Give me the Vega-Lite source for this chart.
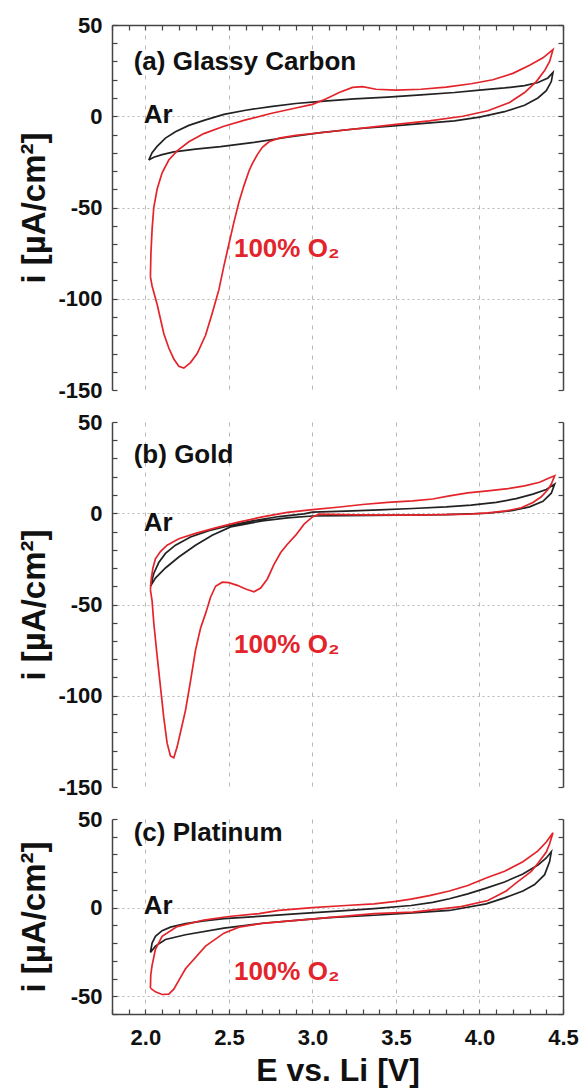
{
  "$schema": "https://vega.github.io/schema/vega-lite/v6.json",
  "background": "white",
  "padding": {"left": 17, "top": 14, "right": 5, "bottom": 5},
  "bounds": "flush",
  "spacing": 32,
  "config": {
    "font": "Liberation Sans",
    "view": {"stroke": null},
    "axis": {
      "labelFont": "Liberation Sans",
      "labelFontWeight": "bold",
      "labelFontSize": 22,
      "labelColor": "#111111",
      "labelPadding": 15,
      "labelFlush": false,
      "labelOverlap": false,
      "titleFont": "Liberation Sans",
      "titleFontWeight": "bold",
      "titleColor": "#111111",
      "domainColor": "#444444",
      "domainWidth": 1.5,
      "tickColor": "#444444",
      "tickWidth": 1.2,
      "tickSize": -5,
      "gridColor": "#b8b8b8",
      "gridWidth": 1
    },
    "text": {"font": "Liberation Sans", "fontWeight": "bold", "fontSize": 26, "align": "left", "baseline": "middle"}
  },
  "datasets": {
    "a": [
      {"s": "Ar", "V": 2.02, "I": -24}, {"s": "Ar", "V": 2.04, "I": -20}, {"s": "Ar", "V": 2.07, "I": -16.5}, {"s": "Ar", "V": 2.12, "I": -12}, {"s": "Ar", "V": 2.18, "I": -8.5}, {"s": "Ar", "V": 2.26, "I": -5}, {"s": "Ar", "V": 2.36, "I": -2}, {"s": "Ar", "V": 2.47, "I": 1}, {"s": "Ar", "V": 2.6, "I": 3.3}, {"s": "Ar", "V": 2.75, "I": 5.3}, {"s": "Ar", "V": 2.9, "I": 7}, {"s": "Ar", "V": 3.05, "I": 8.2}, {"s": "Ar", "V": 3.25, "I": 9.5}, {"s": "Ar", "V": 3.45, "I": 10.5}, {"s": "Ar", "V": 3.65, "I": 11.7}, {"s": "Ar", "V": 3.85, "I": 13}, {"s": "Ar", "V": 4.0, "I": 14.3}, {"s": "Ar", "V": 4.15, "I": 15.5}, {"s": "Ar", "V": 4.27, "I": 16.8}, {"s": "Ar", "V": 4.35, "I": 18.5}, {"s": "Ar", "V": 4.41, "I": 21}, {"s": "Ar", "V": 4.44, "I": 24},
      {"s": "Ar", "V": 4.43, "I": 19}, {"s": "Ar", "V": 4.4, "I": 14}, {"s": "Ar", "V": 4.35, "I": 10}, {"s": "Ar", "V": 4.27, "I": 6}, {"s": "Ar", "V": 4.15, "I": 2.5}, {"s": "Ar", "V": 4.0, "I": -0.5}, {"s": "Ar", "V": 3.85, "I": -2.5}, {"s": "Ar", "V": 3.65, "I": -4}, {"s": "Ar", "V": 3.45, "I": -5.5}, {"s": "Ar", "V": 3.25, "I": -7}, {"s": "Ar", "V": 3.05, "I": -9}, {"s": "Ar", "V": 2.85, "I": -11.5}, {"s": "Ar", "V": 2.65, "I": -14.3}, {"s": "Ar", "V": 2.45, "I": -16.6}, {"s": "Ar", "V": 2.3, "I": -18}, {"s": "Ar", "V": 2.17, "I": -19.5}, {"s": "Ar", "V": 2.1, "I": -21}, {"s": "Ar", "V": 2.05, "I": -22.5}, {"s": "Ar", "V": 2.02, "I": -24},
      {"s": "O2", "V": 2.03, "I": -88}, {"s": "O2", "V": 2.033, "I": -75}, {"s": "O2", "V": 2.04, "I": -62}, {"s": "O2", "V": 2.05, "I": -50}, {"s": "O2", "V": 2.07, "I": -40}, {"s": "O2", "V": 2.1, "I": -31}, {"s": "O2", "V": 2.14, "I": -24}, {"s": "O2", "V": 2.19, "I": -19}, {"s": "O2", "V": 2.26, "I": -14}, {"s": "O2", "V": 2.35, "I": -9.5}, {"s": "O2", "V": 2.47, "I": -5.5}, {"s": "O2", "V": 2.6, "I": -2}, {"s": "O2", "V": 2.75, "I": 1.5}, {"s": "O2", "V": 2.9, "I": 4.5}, {"s": "O2", "V": 3.0, "I": 6.5}, {"s": "O2", "V": 3.08, "I": 9.5}, {"s": "O2", "V": 3.16, "I": 13}, {"s": "O2", "V": 3.24, "I": 15.8}, {"s": "O2", "V": 3.3, "I": 16.2}, {"s": "O2", "V": 3.38, "I": 14.8}, {"s": "O2", "V": 3.5, "I": 14.3}, {"s": "O2", "V": 3.65, "I": 14.8}, {"s": "O2", "V": 3.8, "I": 16}, {"s": "O2", "V": 3.95, "I": 17.8}, {"s": "O2", "V": 4.08, "I": 20}, {"s": "O2", "V": 4.2, "I": 23.5}, {"s": "O2", "V": 4.3, "I": 28}, {"s": "O2", "V": 4.38, "I": 32}, {"s": "O2", "V": 4.44, "I": 36.5},
      {"s": "O2", "V": 4.42, "I": 30}, {"s": "O2", "V": 4.39, "I": 25}, {"s": "O2", "V": 4.34, "I": 19}, {"s": "O2", "V": 4.27, "I": 13}, {"s": "O2", "V": 4.18, "I": 7.5}, {"s": "O2", "V": 4.05, "I": 3}, {"s": "O2", "V": 3.9, "I": 0}, {"s": "O2", "V": 3.7, "I": -2.5}, {"s": "O2", "V": 3.5, "I": -4.5}, {"s": "O2", "V": 3.3, "I": -6.5}, {"s": "O2", "V": 3.1, "I": -8.5}, {"s": "O2", "V": 2.9, "I": -10.5}, {"s": "O2", "V": 2.8, "I": -12}, {"s": "O2", "V": 2.74, "I": -14}, {"s": "O2", "V": 2.7, "I": -17}, {"s": "O2", "V": 2.67, "I": -21}, {"s": "O2", "V": 2.64, "I": -26}, {"s": "O2", "V": 2.62, "I": -30}, {"s": "O2", "V": 2.59, "I": -38}, {"s": "O2", "V": 2.56, "I": -47}, {"s": "O2", "V": 2.53, "I": -58}, {"s": "O2", "V": 2.5, "I": -70}, {"s": "O2", "V": 2.47, "I": -82}, {"s": "O2", "V": 2.44, "I": -95}, {"s": "O2", "V": 2.4, "I": -108}, {"s": "O2", "V": 2.36, "I": -120}, {"s": "O2", "V": 2.31, "I": -130}, {"s": "O2", "V": 2.27, "I": -135}, {"s": "O2", "V": 2.23, "I": -138}, {"s": "O2", "V": 2.2, "I": -137}, {"s": "O2", "V": 2.17, "I": -133}, {"s": "O2", "V": 2.14, "I": -127}, {"s": "O2", "V": 2.11, "I": -119}, {"s": "O2", "V": 2.07, "I": -103}, {"s": "O2", "V": 2.04, "I": -93}, {"s": "O2", "V": 2.03, "I": -88}
    ],
    "b": [
      {"s": "Ar", "V": 2.03, "I": -40}, {"s": "Ar", "V": 2.05, "I": -33}, {"s": "Ar", "V": 2.08, "I": -27}, {"s": "Ar", "V": 2.12, "I": -22}, {"s": "Ar", "V": 2.18, "I": -17.5}, {"s": "Ar", "V": 2.27, "I": -13}, {"s": "Ar", "V": 2.38, "I": -9.5}, {"s": "Ar", "V": 2.5, "I": -6.8}, {"s": "Ar", "V": 2.65, "I": -4}, {"s": "Ar", "V": 2.8, "I": -1.8}, {"s": "Ar", "V": 2.95, "I": -0.3}, {"s": "Ar", "V": 3.0, "I": 0.6}, {"s": "Ar", "V": 3.2, "I": 1.2}, {"s": "Ar", "V": 3.4, "I": 1.8}, {"s": "Ar", "V": 3.6, "I": 2.6}, {"s": "Ar", "V": 3.8, "I": 3.5}, {"s": "Ar", "V": 3.95, "I": 4.5}, {"s": "Ar", "V": 4.1, "I": 6}, {"s": "Ar", "V": 4.22, "I": 8}, {"s": "Ar", "V": 4.32, "I": 10.5}, {"s": "Ar", "V": 4.4, "I": 13}, {"s": "Ar", "V": 4.45, "I": 16},
      {"s": "Ar", "V": 4.43, "I": 11}, {"s": "Ar", "V": 4.38, "I": 6.5}, {"s": "Ar", "V": 4.3, "I": 3.5}, {"s": "Ar", "V": 4.2, "I": 1.5}, {"s": "Ar", "V": 4.05, "I": 0}, {"s": "Ar", "V": 3.8, "I": -0.8}, {"s": "Ar", "V": 3.5, "I": -1.1}, {"s": "Ar", "V": 3.2, "I": -1.3}, {"s": "Ar", "V": 3.0, "I": -1.5}, {"s": "Ar", "V": 2.85, "I": -2.5}, {"s": "Ar", "V": 2.7, "I": -4.2}, {"s": "Ar", "V": 2.51, "I": -7.5}, {"s": "Ar", "V": 2.4, "I": -12}, {"s": "Ar", "V": 2.3, "I": -17.5}, {"s": "Ar", "V": 2.2, "I": -24}, {"s": "Ar", "V": 2.12, "I": -30}, {"s": "Ar", "V": 2.06, "I": -35.5}, {"s": "Ar", "V": 2.03, "I": -40},
      {"s": "O2", "V": 2.03, "I": -42}, {"s": "O2", "V": 2.035, "I": -36}, {"s": "O2", "V": 2.045, "I": -30}, {"s": "O2", "V": 2.06, "I": -25}, {"s": "O2", "V": 2.09, "I": -21}, {"s": "O2", "V": 2.13, "I": -17.5}, {"s": "O2", "V": 2.2, "I": -14}, {"s": "O2", "V": 2.3, "I": -11}, {"s": "O2", "V": 2.42, "I": -8}, {"s": "O2", "V": 2.55, "I": -5}, {"s": "O2", "V": 2.7, "I": -2}, {"s": "O2", "V": 2.85, "I": 0.5}, {"s": "O2", "V": 3.0, "I": 2}, {"s": "O2", "V": 3.15, "I": 3.3}, {"s": "O2", "V": 3.3, "I": 4.8}, {"s": "O2", "V": 3.45, "I": 6}, {"s": "O2", "V": 3.6, "I": 6.8}, {"s": "O2", "V": 3.72, "I": 7.8}, {"s": "O2", "V": 3.82, "I": 9.5}, {"s": "O2", "V": 3.93, "I": 11.2}, {"s": "O2", "V": 4.05, "I": 12.3}, {"s": "O2", "V": 4.17, "I": 13.5}, {"s": "O2", "V": 4.27, "I": 15}, {"s": "O2", "V": 4.36, "I": 17}, {"s": "O2", "V": 4.41, "I": 19}, {"s": "O2", "V": 4.45, "I": 20.5},
      {"s": "O2", "V": 4.43, "I": 16}, {"s": "O2", "V": 4.41, "I": 13}, {"s": "O2", "V": 4.37, "I": 9}, {"s": "O2", "V": 4.32, "I": 5.9}, {"s": "O2", "V": 4.25, "I": 3}, {"s": "O2", "V": 4.16, "I": 1.3}, {"s": "O2", "V": 4.05, "I": 0.2}, {"s": "O2", "V": 3.94, "I": -0.5}, {"s": "O2", "V": 3.6, "I": -1}, {"s": "O2", "V": 3.26, "I": -0.9}, {"s": "O2", "V": 3.04, "I": -0.5}, {"s": "O2", "V": 3.0, "I": -2}, {"s": "O2", "V": 2.95, "I": -6}, {"s": "O2", "V": 2.9, "I": -12}, {"s": "O2", "V": 2.85, "I": -17}, {"s": "O2", "V": 2.81, "I": -21.5}, {"s": "O2", "V": 2.77, "I": -28}, {"s": "O2", "V": 2.73, "I": -36}, {"s": "O2", "V": 2.69, "I": -41}, {"s": "O2", "V": 2.65, "I": -43}, {"s": "O2", "V": 2.6, "I": -41.5}, {"s": "O2", "V": 2.55, "I": -39.5}, {"s": "O2", "V": 2.5, "I": -38}, {"s": "O2", "V": 2.46, "I": -37.8}, {"s": "O2", "V": 2.42, "I": -40}, {"s": "O2", "V": 2.39, "I": -46}, {"s": "O2", "V": 2.36, "I": -55}, {"s": "O2", "V": 2.33, "I": -63}, {"s": "O2", "V": 2.3, "I": -75}, {"s": "O2", "V": 2.27, "I": -92}, {"s": "O2", "V": 2.24, "I": -108}, {"s": "O2", "V": 2.21, "I": -120}, {"s": "O2", "V": 2.19, "I": -128}, {"s": "O2", "V": 2.17, "I": -134}, {"s": "O2", "V": 2.15, "I": -133}, {"s": "O2", "V": 2.13, "I": -126}, {"s": "O2", "V": 2.11, "I": -112}, {"s": "O2", "V": 2.09, "I": -95}, {"s": "O2", "V": 2.07, "I": -78}, {"s": "O2", "V": 2.05, "I": -60}, {"s": "O2", "V": 2.04, "I": -48}, {"s": "O2", "V": 2.03, "I": -42}
    ],
    "c": [
      {"s": "Ar", "V": 2.03, "I": -25.3}, {"s": "Ar", "V": 2.04, "I": -20}, {"s": "Ar", "V": 2.06, "I": -16.2}, {"s": "Ar", "V": 2.1, "I": -13}, {"s": "Ar", "V": 2.15, "I": -11}, {"s": "Ar", "V": 2.24, "I": -9}, {"s": "Ar", "V": 2.35, "I": -7.5}, {"s": "Ar", "V": 2.47, "I": -6.2}, {"s": "Ar", "V": 2.7, "I": -4.8}, {"s": "Ar", "V": 2.92, "I": -3.4}, {"s": "Ar", "V": 3.15, "I": -2}, {"s": "Ar", "V": 3.37, "I": -0.6}, {"s": "Ar", "V": 3.59, "I": 1.2}, {"s": "Ar", "V": 3.72, "I": 3}, {"s": "Ar", "V": 3.82, "I": 5}, {"s": "Ar", "V": 3.93, "I": 7.8}, {"s": "Ar", "V": 4.04, "I": 11}, {"s": "Ar", "V": 4.15, "I": 14.5}, {"s": "Ar", "V": 4.26, "I": 19}, {"s": "Ar", "V": 4.35, "I": 24}, {"s": "Ar", "V": 4.4, "I": 28}, {"s": "Ar", "V": 4.43, "I": 31.5},
      {"s": "Ar", "V": 4.42, "I": 26}, {"s": "Ar", "V": 4.39, "I": 18.6}, {"s": "Ar", "V": 4.33, "I": 13}, {"s": "Ar", "V": 4.26, "I": 9.4}, {"s": "Ar", "V": 4.15, "I": 5.5}, {"s": "Ar", "V": 4.04, "I": 2.1}, {"s": "Ar", "V": 3.82, "I": -1.6}, {"s": "Ar", "V": 3.6, "I": -3}, {"s": "Ar", "V": 3.37, "I": -4.3}, {"s": "Ar", "V": 3.1, "I": -5.6}, {"s": "Ar", "V": 2.92, "I": -7}, {"s": "Ar", "V": 2.7, "I": -8.8}, {"s": "Ar", "V": 2.47, "I": -11.6}, {"s": "Ar", "V": 2.24, "I": -15.3}, {"s": "Ar", "V": 2.12, "I": -18}, {"s": "Ar", "V": 2.06, "I": -21.7}, {"s": "Ar", "V": 2.03, "I": -25.3},
      {"s": "O2", "V": 2.03, "I": -45.4}, {"s": "O2", "V": 2.032, "I": -38}, {"s": "O2", "V": 2.04, "I": -32.6}, {"s": "O2", "V": 2.06, "I": -23.5}, {"s": "O2", "V": 2.1, "I": -16.2}, {"s": "O2", "V": 2.19, "I": -10.7}, {"s": "O2", "V": 2.35, "I": -7}, {"s": "O2", "V": 2.5, "I": -5}, {"s": "O2", "V": 2.68, "I": -3.4}, {"s": "O2", "V": 2.8, "I": -1.5}, {"s": "O2", "V": 3.0, "I": 0}, {"s": "O2", "V": 3.2, "I": 1.2}, {"s": "O2", "V": 3.37, "I": 2.1}, {"s": "O2", "V": 3.5, "I": 3.5}, {"s": "O2", "V": 3.59, "I": 4.8}, {"s": "O2", "V": 3.7, "I": 6.8}, {"s": "O2", "V": 3.82, "I": 9.4}, {"s": "O2", "V": 3.93, "I": 12.5}, {"s": "O2", "V": 4.04, "I": 16.7}, {"s": "O2", "V": 4.15, "I": 20.5}, {"s": "O2", "V": 4.26, "I": 25.9}, {"s": "O2", "V": 4.35, "I": 32}, {"s": "O2", "V": 4.4, "I": 37}, {"s": "O2", "V": 4.44, "I": 42.3},
      {"s": "O2", "V": 4.42, "I": 36}, {"s": "O2", "V": 4.4, "I": 31.4}, {"s": "O2", "V": 4.35, "I": 25}, {"s": "O2", "V": 4.31, "I": 20.4}, {"s": "O2", "V": 4.22, "I": 14}, {"s": "O2", "V": 4.16, "I": 9.4}, {"s": "O2", "V": 4.05, "I": 4}, {"s": "O2", "V": 3.89, "I": 0.6}, {"s": "O2", "V": 3.6, "I": -2.5}, {"s": "O2", "V": 3.37, "I": -3.4}, {"s": "O2", "V": 2.92, "I": -7}, {"s": "O2", "V": 2.7, "I": -8.9}, {"s": "O2", "V": 2.56, "I": -11}, {"s": "O2", "V": 2.47, "I": -14.4}, {"s": "O2", "V": 2.36, "I": -21.7}, {"s": "O2", "V": 2.24, "I": -34.5}, {"s": "O2", "V": 2.2, "I": -41}, {"s": "O2", "V": 2.17, "I": -46}, {"s": "O2", "V": 2.14, "I": -48.8}, {"s": "O2", "V": 2.1, "I": -49}, {"s": "O2", "V": 2.06, "I": -47.5}, {"s": "O2", "V": 2.03, "I": -45.4}
    ],
    "ta": [
      {"s": "label", "t": "(a) Glassy Carbon", "V": 1.93, "I": 30},
      {"s": "Ar", "t": "Ar", "V": 1.99, "I": 0.5},
      {"s": "O2", "t": "100% O₂", "V": 2.53, "I": -73}
    ],
    "tb": [
      {"s": "label", "t": "(b) Gold", "V": 1.93, "I": 32},
      {"s": "Ar", "t": "Ar", "V": 1.99, "I": -5.4},
      {"s": "O2", "t": "100% O₂", "V": 2.53, "I": -72}
    ],
    "tc": [
      {"s": "label", "t": "(c) Platinum", "V": 1.93, "I": 42.3},
      {"s": "Ar", "t": "Ar", "V": 1.99, "I": 1.2},
      {"s": "O2", "t": "100% O₂", "V": 2.53, "I": -36.3}
    ]
  },
  "vconcat": [
    {
      "width": 451,
      "height": 365,
      "layer": [
        {
          "data": {"name": "a"},
          "mark": {"type": "line", "strokeWidth": 1.7},
          "encoding": {
            "x": {"field": "V", "type": "quantitative", "scale": {"domain": [1.8, 4.5], "nice": false, "zero": false},
              "axis": {"orient": "bottom", "values": [2, 2.5, 3, 3.5, 4], "domain": false, "ticks": false, "labels": false, "title": null, "grid": true, "gridDash": [4, 6]}},
            "y": {"field": "I", "type": "quantitative", "scale": {"domain": [-150, 50], "nice": false, "zero": false},
              "axis": {"orient": "left", "values": [-150, -140, -130, -120, -110, -100, -90, -80, -70, -60, -50, -40, -30, -20, -10, 0, 10, 20, 30, 40, 50],
                "labelExpr": "datum.value % 50 === 0 ? '' + datum.value : ''",
                "grid": true, "gridDash": [2, 3],
                "gridOpacity": {"condition": {"test": "datum.value % 50 === 0 && datum.value > -150 && datum.value < 50", "value": 1}, "value": 0},
                "title": "i [µA/cm²]", "titleFontSize": 33, "titleAngle": -90, "titleAlign": "center", "titleBaseline": "middle", "titleX": -78, "titleY": 182.5}},
            "color": {"field": "s", "type": "nominal", "scale": {"domain": ["Ar", "O2"], "range": ["#222222", "#e3242b"]}, "legend": null},
            "order": {"value": null}
          }
        },
        {
          "data": {"name": "a"},
          "mark": {"type": "point", "opacity": 0},
          "encoding": {
            "x": {"field": "V", "type": "quantitative", "scale": {"domain": [1.8, 4.5], "nice": false, "zero": false},
              "axis": {"orient": "top", "values": [1.8, 1.9, 2.0, 2.1, 2.2, 2.3, 2.4, 2.5, 2.6, 2.7, 2.8, 2.9, 3.0, 3.1, 3.2, 3.3, 3.4, 3.5, 3.6, 3.7, 3.8, 3.9, 4.0, 4.1, 4.2, 4.3, 4.4, 4.5], "labels": false, "grid": false, "title": null}},
            "y": {"field": "I", "type": "quantitative", "scale": {"domain": [-150, 50], "nice": false, "zero": false},
              "axis": {"orient": "right", "values": [-150, -140, -130, -120, -110, -100, -90, -80, -70, -60, -50, -40, -30, -20, -10, 0, 10, 20, 30, 40, 50], "labels": false, "grid": false, "title": null}}
          }
        },
        {
          "data": {"name": "ta"},
          "transform": [{"filter": "datum.s !== 'O2'"}],
          "mark": {"type": "text", "color": "#111111"},
          "encoding": {
            "x": {"field": "V", "type": "quantitative", "scale": {"domain": [1.8, 4.5], "nice": false, "zero": false}, "axis": null},
            "y": {"field": "I", "type": "quantitative", "scale": {"domain": [-150, 50], "nice": false, "zero": false}, "axis": null},
            "text": {"field": "t"}
          }
        },
        {
          "data": {"name": "ta"},
          "transform": [{"filter": "datum.s === 'O2'"}],
          "mark": {"type": "text", "color": "#e3242b"},
          "encoding": {
            "x": {"field": "V", "type": "quantitative", "scale": {"domain": [1.8, 4.5], "nice": false, "zero": false}, "axis": null},
            "y": {"field": "I", "type": "quantitative", "scale": {"domain": [-150, 50], "nice": false, "zero": false}, "axis": null},
            "text": {"field": "t"}
          }
        }
      ],
      "resolve": {"axis": {"x": "independent", "y": "independent"}}
    },
    {
      "width": 451,
      "height": 365,
      "layer": [
        {
          "data": {"name": "b"},
          "mark": {"type": "line", "strokeWidth": 1.7},
          "encoding": {
            "x": {"field": "V", "type": "quantitative", "scale": {"domain": [1.8, 4.5], "nice": false, "zero": false},
              "axis": {"orient": "bottom", "values": [2, 2.5, 3, 3.5, 4], "domain": false, "ticks": false, "labels": false, "title": null, "grid": true, "gridDash": [4, 6]}},
            "y": {"field": "I", "type": "quantitative", "scale": {"domain": [-150, 50], "nice": false, "zero": false},
              "axis": {"orient": "left", "values": [-150, -140, -130, -120, -110, -100, -90, -80, -70, -60, -50, -40, -30, -20, -10, 0, 10, 20, 30, 40, 50],
                "labelExpr": "datum.value % 50 === 0 ? '' + datum.value : ''",
                "grid": true, "gridDash": [2, 3],
                "gridOpacity": {"condition": {"test": "datum.value % 50 === 0 && datum.value > -150 && datum.value < 50", "value": 1}, "value": 0},
                "title": "i [µA/cm²]", "titleFontSize": 33, "titleAngle": -90, "titleAlign": "center", "titleBaseline": "middle", "titleX": -78, "titleY": 182.5}},
            "color": {"field": "s", "type": "nominal", "scale": {"domain": ["Ar", "O2"], "range": ["#222222", "#e3242b"]}, "legend": null},
            "order": {"value": null}
          }
        },
        {
          "data": {"name": "b"},
          "mark": {"type": "point", "opacity": 0},
          "encoding": {
            "x": {"field": "V", "type": "quantitative", "scale": {"domain": [1.8, 4.5], "nice": false, "zero": false}, "axis": null},
            "y": {"field": "I", "type": "quantitative", "scale": {"domain": [-150, 50], "nice": false, "zero": false},
              "axis": {"orient": "right", "values": [-150, -140, -130, -120, -110, -100, -90, -80, -70, -60, -50, -40, -30, -20, -10, 0, 10, 20, 30, 40, 50], "labels": false, "grid": false, "title": null}}
          }
        },
        {
          "data": {"name": "tb"},
          "transform": [{"filter": "datum.s !== 'O2'"}],
          "mark": {"type": "text", "color": "#111111"},
          "encoding": {
            "x": {"field": "V", "type": "quantitative", "scale": {"domain": [1.8, 4.5], "nice": false, "zero": false}, "axis": null},
            "y": {"field": "I", "type": "quantitative", "scale": {"domain": [-150, 50], "nice": false, "zero": false}, "axis": null},
            "text": {"field": "t"}
          }
        },
        {
          "data": {"name": "tb"},
          "transform": [{"filter": "datum.s === 'O2'"}],
          "mark": {"type": "text", "color": "#e3242b"},
          "encoding": {
            "x": {"field": "V", "type": "quantitative", "scale": {"domain": [1.8, 4.5], "nice": false, "zero": false}, "axis": null},
            "y": {"field": "I", "type": "quantitative", "scale": {"domain": [-150, 50], "nice": false, "zero": false}, "axis": null},
            "text": {"field": "t"}
          }
        }
      ],
      "resolve": {"axis": {"x": "independent", "y": "independent"}}
    },
    {
      "width": 451,
      "height": 195,
      "layer": [
        {
          "data": {"name": "c"},
          "mark": {"type": "line", "strokeWidth": 1.7},
          "encoding": {
            "x": {"field": "V", "type": "quantitative", "scale": {"domain": [1.8, 4.5], "nice": false, "zero": false},
              "axis": {"orient": "bottom", "values": [1.8, 1.9, 2.0, 2.1, 2.2, 2.3, 2.4, 2.5, 2.6, 2.7, 2.8, 2.9, 3.0, 3.1, 3.2, 3.3, 3.4, 3.5, 3.6, 3.7, 3.8, 3.9, 4.0, 4.1, 4.2, 4.3, 4.4, 4.5],
                "labelExpr": "abs(datum.value * 2 - round(datum.value * 2)) < 0.01 && datum.value > 1.95 ? format(datum.value, '.1f') : ''",
                "labelPadding": 18,
                "grid": true, "gridDash": [4, 6],
                "gridOpacity": {"condition": {"test": "abs(datum.value * 2 - round(datum.value * 2)) < 0.01 && datum.value > 1.95 && datum.value < 4.45", "value": 1}, "value": 0},
                "title": "E vs. Li [V]", "titleFontSize": 32, "titlePadding": 7}},
            "y": {"field": "I", "type": "quantitative", "scale": {"domain": [-60, 50], "nice": false, "zero": false},
              "axis": {"orient": "left", "values": [-60, -50, -40, -30, -20, -10, 0, 10, 20, 30, 40, 50],
                "labelExpr": "datum.value % 50 === 0 ? '' + datum.value : ''",
                "grid": true, "gridDash": [2, 3],
                "gridOpacity": {"condition": {"test": "datum.value % 50 === 0 && datum.value < 50", "value": 1}, "value": 0},
                "title": "i [µA/cm²]", "titleFontSize": 33, "titleAngle": -90, "titleAlign": "center", "titleBaseline": "middle", "titleX": -78, "titleY": 97.5}},
            "color": {"field": "s", "type": "nominal", "scale": {"domain": ["Ar", "O2"], "range": ["#222222", "#e3242b"]}, "legend": null},
            "order": {"value": null}
          }
        },
        {
          "data": {"name": "c"},
          "mark": {"type": "point", "opacity": 0},
          "encoding": {
            "x": {"field": "V", "type": "quantitative", "scale": {"domain": [1.8, 4.5], "nice": false, "zero": false}, "axis": null},
            "y": {"field": "I", "type": "quantitative", "scale": {"domain": [-60, 50], "nice": false, "zero": false},
              "axis": {"orient": "right", "values": [-60, -50, -40, -30, -20, -10, 0, 10, 20, 30, 40, 50], "labels": false, "grid": false, "title": null}}
          }
        },
        {
          "data": {"name": "tc"},
          "transform": [{"filter": "datum.s !== 'O2'"}],
          "mark": {"type": "text", "color": "#111111"},
          "encoding": {
            "x": {"field": "V", "type": "quantitative", "scale": {"domain": [1.8, 4.5], "nice": false, "zero": false}, "axis": null},
            "y": {"field": "I", "type": "quantitative", "scale": {"domain": [-60, 50], "nice": false, "zero": false}, "axis": null},
            "text": {"field": "t"}
          }
        },
        {
          "data": {"name": "tc"},
          "transform": [{"filter": "datum.s === 'O2'"}],
          "mark": {"type": "text", "color": "#e3242b"},
          "encoding": {
            "x": {"field": "V", "type": "quantitative", "scale": {"domain": [1.8, 4.5], "nice": false, "zero": false}, "axis": null},
            "y": {"field": "I", "type": "quantitative", "scale": {"domain": [-60, 50], "nice": false, "zero": false}, "axis": null},
            "text": {"field": "t"}
          }
        }
      ],
      "resolve": {"axis": {"x": "independent", "y": "independent"}}
    }
  ]
}
